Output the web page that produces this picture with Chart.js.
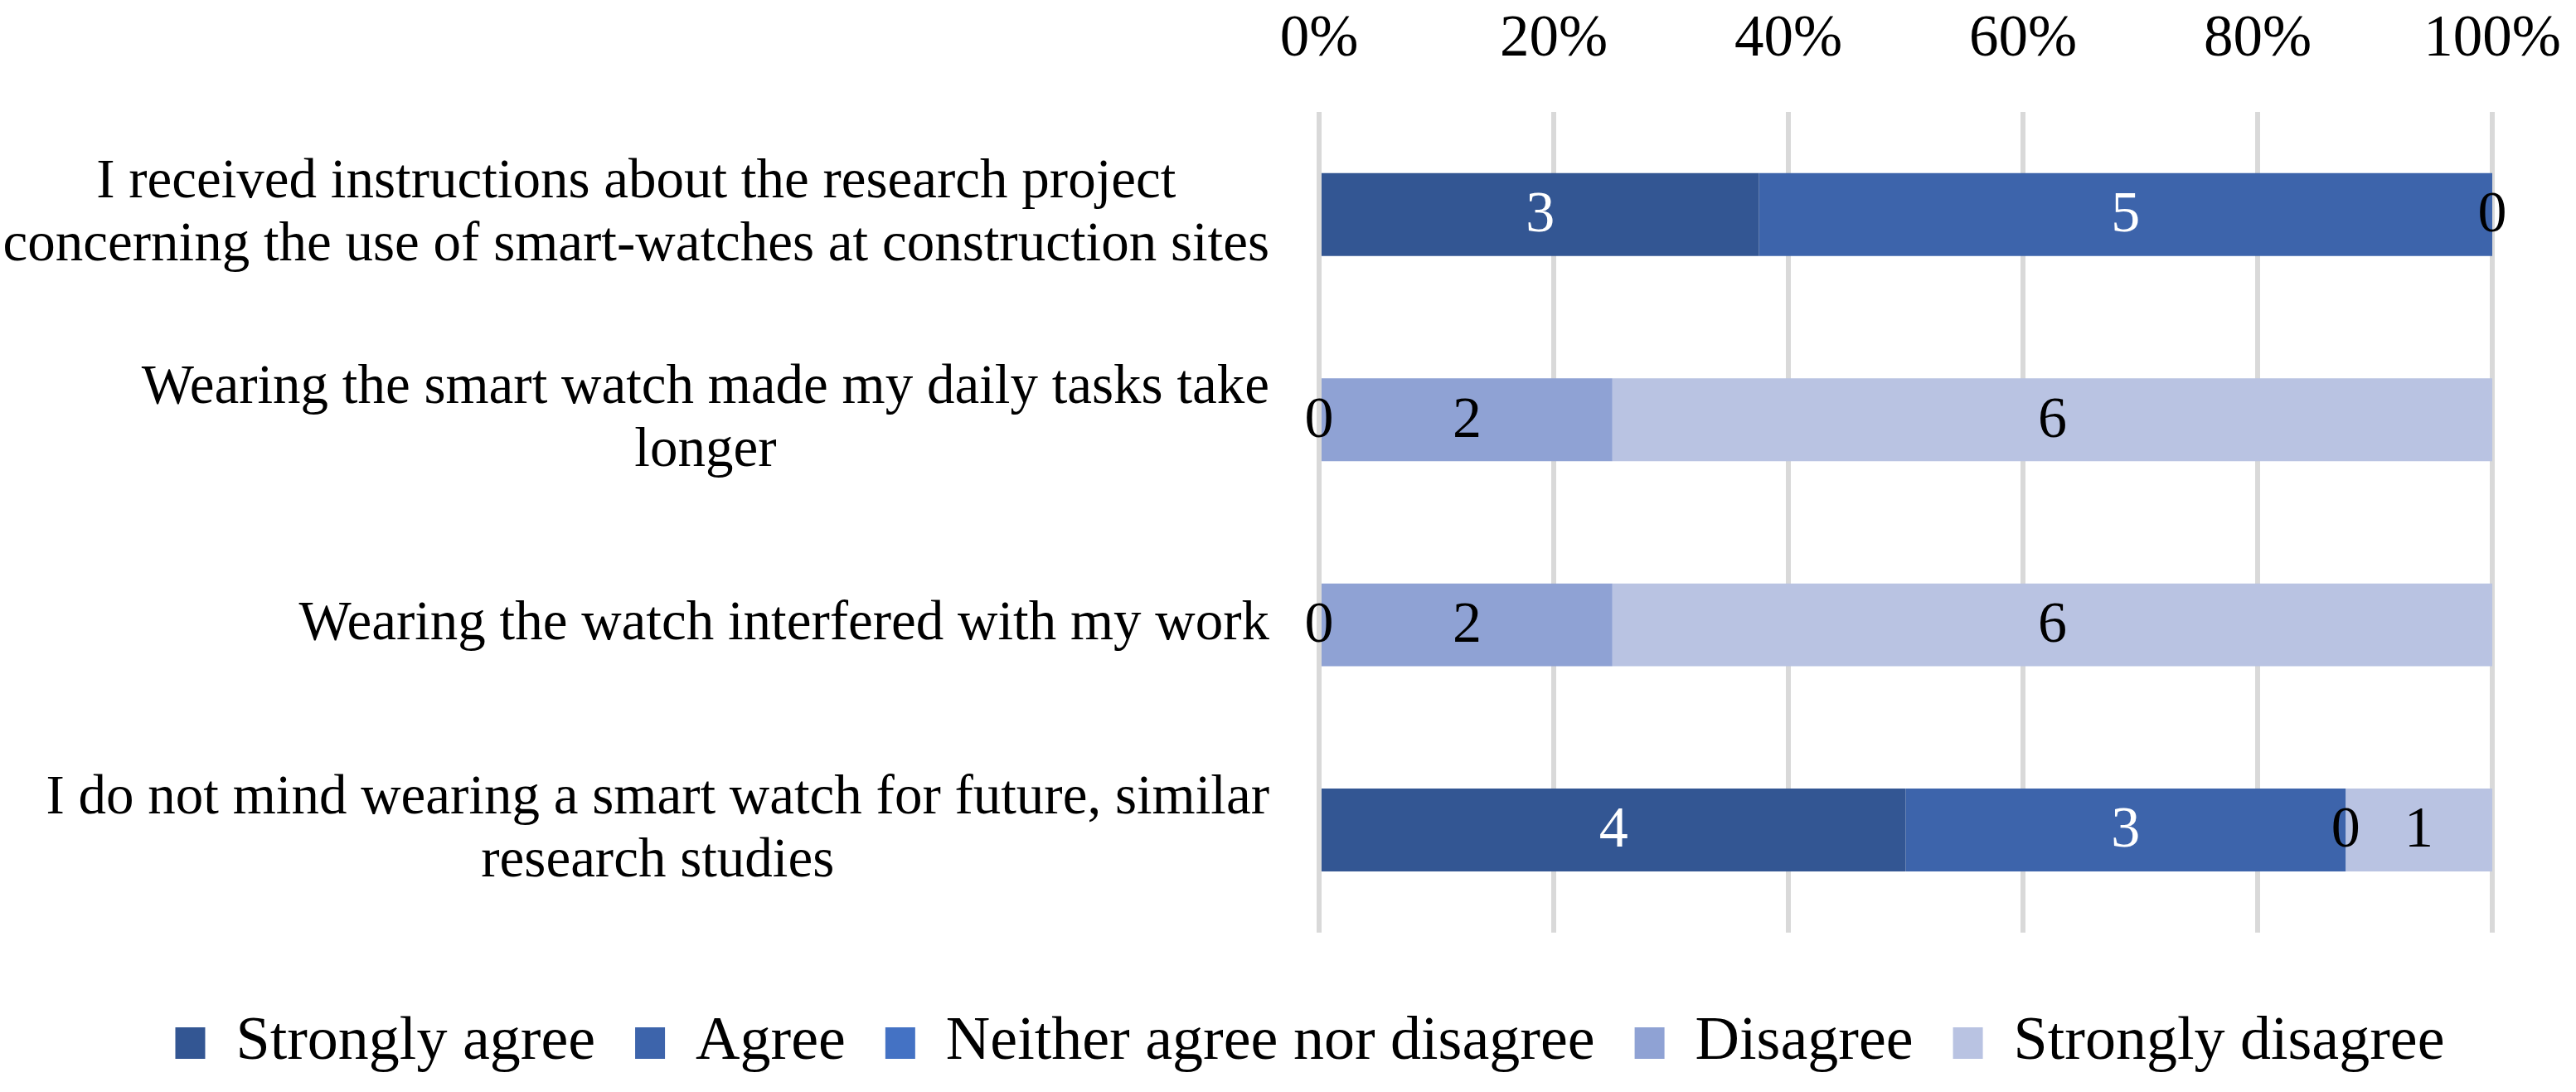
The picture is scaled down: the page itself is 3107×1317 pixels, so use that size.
<!DOCTYPE html>
<html>
<head>
<meta charset="utf-8">
<script src="https://cdn.jsdelivr.net/npm/chart.js@4/dist/chart.umd.min.js"></script>
<style>
  html, body { margin: 0; padding: 0; background: #fff; }
  canvas { display: block; }
</style>
</head>
<body>
<canvas id="chart" width="3107" height="1317"></canvas>
<script>
// =======================
// Data (counts of answers)
// =======================
const categories = [
  ["I received instructions about the research project", "concerning the use of smart-watches at construction sites"],
  ["Wearing the smart watch made my daily tasks take", "longer"],
  ["Wearing the watch interfered with my work"],
  ["I do not mind wearing a smart watch for future, similar", "research studies"]
]

const stronglyAgree    = [3, null, null, 4]
const agree            = [5, null, null, 3]
const neither          = [0, 0, 0, 0]
const disagree         = [null, 2, 2, null]
const stronglyDisagree = [null, 6, 6, 1]

const tickValues = [0, 20, 40, 60, 80, 100]

const FONT = '"Liberation Serif", "Times New Roman", serif'
const CAT_SIZE = 67
const TICK_SIZE = 71
const VALUE_SIZE = 70
const LEGEND_SIZE = 74
const LINE_H = 76

const series = [
  { label: "Strongly agree",             counts: stronglyAgree,    color: "#335693", text: "#ffffff" },
  { label: "Agree",                      counts: agree,            color: "#3d64ab", text: "#ffffff" },
  { label: "Neither agree nor disagree", counts: neither,          color: "#4472c4", text: "#000000" },
  { label: "Disagree",                   counts: disagree,         color: "#8fa2d4", text: "#000000" },
  { label: "Strongly disagree",          counts: stronglyDisagree, color: "#b9c3e2", text: "#000000" }
]

// row totals, so every bar fills 100%
const totals = categories.map((_, i) =>
  series.reduce((sum, s) => sum + (s.counts[i] || 0), 0)
)


// =======================
// Plugins
// =======================
// category labels: each block right aligned, its lines centred
const categoryLabels = {
  id: "categoryLabels",
  afterDraw(chart) {
    const ctx = chart.ctx
    const y = chart.scales.y
    ctx.save()
    ctx.font = `${CAT_SIZE}px ${FONT}`
    ctx.fillStyle = "#000"
    ctx.textAlign = "center"
    ctx.textBaseline = "middle"
    categories.forEach((lines, i) => {
      const cy = y.getPixelForValue(i)
      const w = Math.max(...lines.map(l => ctx.measureText(l).width))
      const cx = chart.chartArea.left - 60 - w / 2
      lines.forEach((line, j) => {
        ctx.fillText(line, cx, cy + (j - (lines.length - 1) / 2) * LINE_H)
      })
    })
    ctx.restore()
  }
}

// value labels in the middle of each segment
const valueLabels = {
  id: "valueLabels",
  afterDatasetsDraw(chart) {
    const ctx = chart.ctx
    ctx.save()
    ctx.font = `${VALUE_SIZE}px ${FONT}`
    ctx.textAlign = "center"
    ctx.textBaseline = "middle"
    chart.data.datasets.forEach((ds, di) => {
      const meta = chart.getDatasetMeta(di)
      meta.data.forEach((bar, i) => {
        const count = ds.counts[i]
        if (count === null) return
        ctx.fillStyle = ds.labelColor
        ctx.fillText(String(count), (bar.x + bar.base) / 2, bar.y + 2)
      })
    })
    ctx.restore()
  }
}


// =======================
// Chart
// =======================
new Chart(document.getElementById("chart"), {
  type: "bar",
  data: {
    labels: categories.map(c => c.join(" ")),
    datasets: series.map(s => ({
      label: s.label,
      counts: s.counts,
      labelColor: s.text,
      data: s.counts.map((v, i) => v === null ? null : v / totals[i] * 100),
      backgroundColor: s.color,
      borderWidth: 0,
      categoryPercentage: 0.404,
      barPercentage: 1
    }))
  },
  options: {
    indexAxis: "y",
    responsive: false,
    animation: false,
    devicePixelRatio: 1,
    layout: { padding: { left: 154, right: 101, top: 6, bottom: 12 } },
    scales: {
      x: {
        position: "top",
        stacked: true,
        min: 0,
        max: 100,
        afterBuildTicks: axis => { axis.ticks = tickValues.map(v => ({ value: v })) },
        afterFit: axis => {
          axis.height = 129
          axis.paddingLeft = 0
          axis.paddingRight = 0
        },
        ticks: {
          callback: v => v + "%",
          color: "#000",
          padding: 44,
          font: { family: FONT, size: TICK_SIZE }
        },
        grid: { color: "#d9d9d9", lineWidth: 6, drawTicks: false },
        border: { display: false }
      },
      y: {
        stacked: true,
        afterFit: axis => { axis.width = 1437 },
        ticks: { display: false },
        grid: { display: false },
        border: { display: false }
      }
    },
    plugins: {
      tooltip: { enabled: false },
      legend: {
        position: "bottom",
        title: { display: true, text: " ", font: { size: 1 }, padding: { top: 47, bottom: 0 } },
        labels: {
          color: "#000",
          boxWidth: 36,
          boxHeight: 38,
          padding: 48,
          font: { family: FONT, size: LEGEND_SIZE }
        }
      }
    }
  },
  plugins: [categoryLabels, valueLabels]
})
</script>
</body>
</html>
